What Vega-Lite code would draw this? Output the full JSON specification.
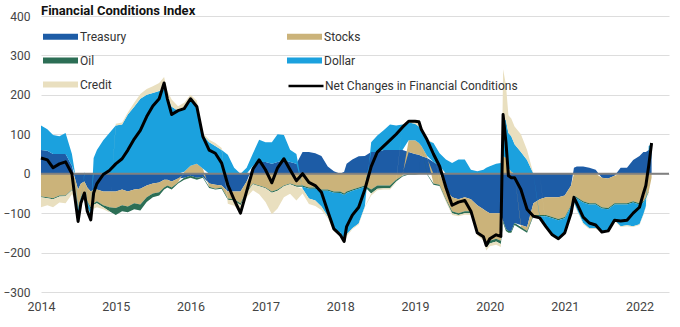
{
  "$schema": "https://vega.github.io/schema/vega-lite/v6.json",
  "width": 628,
  "height": 276,
  "autosize": {"type": "none"},
  "padding": {"left": 41, "top": 16, "right": 11, "bottom": 35},
  "background": "white",
  "title": {"text": "Financial Conditions Index", "anchor": "start", "frame": "group", "font": "Roboto", "fontSize": 13, "fontWeight": "bold", "color": "#111111", "offset": -8},
  "config": {"view": {"stroke": null}, "font": "Roboto"},
  "datasets": {
    "ord": [
      {"key": "T", "series": "Treasury", "k": 1},
      {"key": "S", "series": "Stocks", "k": 2},
      {"key": "O", "series": "Oil", "k": 3},
      {"key": "D", "series": "Dollar", "k": 4},
      {"key": "C", "series": "Credit", "k": 5}
    ],
    "fci": [
      {"date":"2014-01-01","T":60,"S":-58,"O":-2,"D":62,"C":-25,"N":40},
      {"date":"2014-02-01","T":58,"S":-60,"O":-2,"D":55,"C":-18,"N":35},
      {"date":"2014-03-01","T":50,"S":-62,"O":-3,"D":48,"C":-20,"N":15},
      {"date":"2014-04-01","T":50,"S":-55,"O":-3,"D":45,"C":-15,"N":25},
      {"date":"2014-05-01","T":50,"S":-55,"O":-2,"D":53,"C":-18,"N":30},
      {"date":"2014-06-01","T":20,"S":-40,"O":-2,"D":30,"C":-10,"N":0},
      {"date":"2014-06-15","T":-10,"S":-40,"O":-3,"D":5,"C":-10,"N":-58},
      {"date":"2014-07-01","T":-40,"S":-45,"O":-5,"D":-20,"C":-10,"N":-121},
      {"date":"2014-07-15","T":-25,"S":-35,"O":-3,"D":-5,"C":-7,"N":-74},
      {"date":"2014-08-01","T":-20,"S":-25,"O":-2,"D":5,"C":-7,"N":-49},
      {"date":"2014-08-15","T":-35,"S":-35,"O":-3,"D":-10,"C":-7,"N":-95},
      {"date":"2014-09-01","T":-45,"S":-40,"O":-5,"D":-15,"C":-12,"N":-117},
      {"date":"2014-09-15","T":-40,"S":-35,"O":-4,"D":40,"C":-10,"N":-49},
      {"date":"2014-10-01","T":-40,"S":-30,"O":-5,"D":60,"C":-10,"N":-25},
      {"date":"2014-11-01","T":-45,"S":-35,"O":-5,"D":85,"C":-5,"N":-2},
      {"date":"2014-12-01","T":-45,"S":-40,"O":-10,"D":103,"C":-3,"N":8},
      {"date":"2015-01-01","T":-45,"S":-42,"O":-18,"D":122,"C":5,"N":25},
      {"date":"2015-02-01","T":-40,"S":-40,"O":-15,"D":125,"C":5,"N":38},
      {"date":"2015-03-01","T":-45,"S":-38,"O":-15,"D":150,"C":5,"N":60},
      {"date":"2015-04-01","T":-40,"S":-35,"O":-15,"D":170,"C":10,"N":88},
      {"date":"2015-05-01","T":-38,"S":-40,"O":-15,"D":190,"C":12,"N":110},
      {"date":"2015-06-01","T":-30,"S":-30,"O":-12,"D":200,"C":15,"N":145},
      {"date":"2015-07-01","T":-25,"S":-25,"O":-10,"D":205,"C":17,"N":172},
      {"date":"2015-08-01","T":-22,"S":-25,"O":-8,"D":210,"C":20,"N":190},
      {"date":"2015-08-25","T":-15,"S":-20,"O":-5,"D":215,"C":30,"N":230},
      {"date":"2015-09-10","T":-15,"S":-15,"O":-5,"D":195,"C":15,"N":190},
      {"date":"2015-10-01","T":-20,"S":-15,"O":-5,"D":170,"C":18,"N":150},
      {"date":"2015-11-01","T":-12,"S":-10,"O":-3,"D":160,"C":11,"N":160},
      {"date":"2015-12-01","T":-10,"S":5,"O":-5,"D":160,"C":15,"N":165},
      {"date":"2016-01-01","T":-5,"S":20,"O":-5,"D":165,"C":15,"N":190},
      {"date":"2016-02-01","T":-10,"S":25,"O":-5,"D":145,"C":15,"N":170},
      {"date":"2016-03-01","T":-8,"S":13,"O":-2,"D":85,"C":5,"N":95},
      {"date":"2016-04-01","T":-25,"S":-8,"O":-3,"D":80,"C":6,"N":60},
      {"date":"2016-05-01","T":-28,"S":-10,"O":-2,"D":70,"C":8,"N":52},
      {"date":"2016-06-01","T":-30,"S":-5,"O":-3,"D":60,"C":5,"N":27},
      {"date":"2016-07-01","T":-45,"S":-18,"O":-3,"D":48,"C":-10,"N":-28},
      {"date":"2016-08-01","T":-45,"S":-20,"O":-3,"D":15,"C":-13,"N":-66},
      {"date":"2016-09-01","T":-45,"S":-30,"O":-5,"D":0,"C":-20,"N":-100},
      {"date":"2016-10-01","T":-20,"S":-25,"O":-3,"D":15,"C":-12,"N":-45},
      {"date":"2016-11-01","T":20,"S":-25,"O":-2,"D":32,"C":-15,"N":12},
      {"date":"2016-12-01","T":30,"S":-30,"O":-2,"D":56,"C":-20,"N":35},
      {"date":"2017-01-01","T":30,"S":-35,"O":-2,"D":50,"C":-35,"N":10},
      {"date":"2017-02-01","T":25,"S":-45,"O":-3,"D":55,"C":-55,"N":-23},
      {"date":"2017-03-01","T":30,"S":-40,"O":-3,"D":70,"C":-45,"N":15},
      {"date":"2017-04-01","T":35,"S":-30,"O":-2,"D":63,"C":-28,"N":38},
      {"date":"2017-05-01","T":30,"S":-25,"O":-2,"D":31,"C":-24,"N":10},
      {"date":"2017-06-01","T":25,"S":-30,"O":-3,"D":25,"C":-35,"N":-18},
      {"date":"2017-07-01","T":55,"S":-30,"O":-3,"D":-5,"C":-12,"N":0},
      {"date":"2017-08-01","T":55,"S":-35,"O":-3,"D":-25,"C":-14,"N":-22},
      {"date":"2017-09-01","T":52,"S":-35,"O":-3,"D":-30,"C":-14,"N":-30},
      {"date":"2017-10-01","T":45,"S":-40,"O":-3,"D":-40,"C":-9,"N":-47},
      {"date":"2017-11-01","T":18,"S":-40,"O":-3,"D":-65,"C":-5,"N":-95},
      {"date":"2017-12-01","T":6,"S":-45,"O":-3,"D":-95,"C":-3,"N":-140},
      {"date":"2018-01-01","T":0,"S":-45,"O":-4,"D":-100,"C":-6,"N":-155},
      {"date":"2018-01-20","T":5,"S":-50,"O":-4,"D":-115,"C":-8,"N":-172},
      {"date":"2018-02-01","T":25,"S":-45,"O":-4,"D":-105,"C":-5,"N":-134},
      {"date":"2018-03-01","T":36,"S":-40,"O":-3,"D":-95,"C":-3,"N":-105},
      {"date":"2018-04-01","T":44,"S":-35,"O":-3,"D":-88,"C":-3,"N":-85},
      {"date":"2018-05-01","T":45,"S":-30,"O":-3,"D":-50,"C":-2,"N":-40},
      {"date":"2018-06-01","T":55,"S":-40,"O":-10,"D":25,"C":-5,"N":18},
      {"date":"2018-07-01","T":55,"S":-30,"O":-8,"D":42,"C":-4,"N":55},
      {"date":"2018-08-01","T":60,"S":-30,"O":-7,"D":50,"C":-3,"N":70},
      {"date":"2018-09-01","T":60,"S":-30,"O":-7,"D":65,"C":-3,"N":85},
      {"date":"2018-10-01","T":60,"S":-15,"O":-5,"D":62,"C":-2,"N":100},
      {"date":"2018-11-01","T":60,"S":-5,"O":-2,"D":65,"C":0,"N":118},
      {"date":"2018-12-01","T":55,"S":30,"O":-2,"D":45,"C":5,"N":133},
      {"date":"2019-01-01","T":50,"S":35,"O":-2,"D":42,"C":8,"N":133},
      {"date":"2019-01-20","T":48,"S":30,"O":-1,"D":42,"C":6,"N":132},
      {"date":"2019-02-01","T":45,"S":25,"O":0,"D":40,"C":5,"N":112},
      {"date":"2019-03-01","T":40,"S":5,"O":-2,"D":40,"C":3,"N":86},
      {"date":"2019-04-01","T":30,"S":-25,"O":-3,"D":48,"C":0,"N":50},
      {"date":"2019-05-01","T":20,"S":-28,"O":-3,"D":32,"C":-2,"N":19},
      {"date":"2019-06-01","T":-40,"S":-25,"O":-3,"D":36,"C":-3,"N":-35},
      {"date":"2019-07-01","T":-60,"S":-35,"O":-5,"D":27,"C":-5,"N":-80},
      {"date":"2019-08-01","T":-65,"S":-35,"O":-5,"D":36,"C":-3,"N":-72},
      {"date":"2019-09-01","T":-60,"S":-35,"O":-5,"D":36,"C":-4,"N":-68},
      {"date":"2019-10-01","T":-65,"S":-30,"O":-5,"D":10,"C":-5,"N":-95},
      {"date":"2019-11-01","T":-80,"S":-65,"O":-6,"D":6,"C":-5,"N":-150},
      {"date":"2019-12-01","T":-90,"S":-70,"O":-5,"D":10,"C":-5,"N":-160},
      {"date":"2019-12-15","T":-95,"S":-85,"O":-8,"D":15,"C":-7,"N":-182},
      {"date":"2020-01-01","T":-100,"S":-70,"O":-7,"D":19,"C":-7,"N":-165},
      {"date":"2020-02-01","T":-100,"S":-65,"O":-7,"D":25,"C":-8,"N":-155},
      {"date":"2020-02-24","T":-100,"S":-70,"O":-8,"D":27,"C":-8,"N":-159},
      {"date":"2020-03-06","T":-120,"S":45,"O":-5,"D":100,"C":120,"N":150},
      {"date":"2020-03-20","T":-140,"S":40,"O":-5,"D":95,"C":90,"N":80},
      {"date":"2020-04-01","T":-145,"S":15,"O":-5,"D":88,"C":45,"N":-5},
      {"date":"2020-04-15","T":-145,"S":5,"O":-5,"D":90,"C":45,"N":-10},
      {"date":"2020-05-01","T":-125,"S":0,"O":-5,"D":75,"C":45,"N":-10},
      {"date":"2020-06-01","T":-130,"S":-5,"O":-5,"D":55,"C":45,"N":-40},
      {"date":"2020-07-01","T":-135,"S":-10,"O":-5,"D":35,"C":25,"N":-90},
      {"date":"2020-08-01","T":-75,"S":-30,"O":-3,"D":0,"C":0,"N":-108},
      {"date":"2020-09-01","T":-65,"S":-40,"O":-3,"D":-5,"C":0,"N":-112},
      {"date":"2020-10-01","T":-60,"S":-45,"O":-3,"D":-25,"C":-2,"N":-134},
      {"date":"2020-11-01","T":-60,"S":-50,"O":-3,"D":-40,"C":-2,"N":-155},
      {"date":"2020-12-01","T":-60,"S":-55,"O":-3,"D":-45,"C":-2,"N":-165},
      {"date":"2021-01-01","T":-55,"S":-55,"O":-3,"D":-35,"C":-2,"N":-150},
      {"date":"2021-02-01","T":-30,"S":-50,"O":-3,"D":-15,"C":-2,"N":-100},
      {"date":"2021-02-15","T":15,"S":-55,"O":-3,"D":-15,"C":-2,"N":-60},
      {"date":"2021-03-01","T":18,"S":-60,"O":-3,"D":-28,"C":-2,"N":-75},
      {"date":"2021-04-01","T":18,"S":-70,"O":-3,"D":-52,"C":-3,"N":-110},
      {"date":"2021-05-01","T":15,"S":-75,"O":-3,"D":-60,"C":-2,"N":-125},
      {"date":"2021-06-01","T":10,"S":-75,"O":-3,"D":-60,"C":-2,"N":-130},
      {"date":"2021-07-01","T":-10,"S":-75,"O":-3,"D":-58,"C":-2,"N":-148},
      {"date":"2021-08-01","T":-12,"S":-75,"O":-3,"D":-53,"C":-2,"N":-145},
      {"date":"2021-09-01","T":-5,"S":-70,"O":-3,"D":-40,"C":-2,"N":-118},
      {"date":"2021-10-01","T":15,"S":-75,"O":-3,"D":-55,"C":-2,"N":-120},
      {"date":"2021-11-01","T":15,"S":-75,"O":-3,"D":-53,"C":-2,"N":-118},
      {"date":"2021-12-01","T":35,"S":-70,"O":-3,"D":-60,"C":-2,"N":-100},
      {"date":"2022-01-01","T":45,"S":-75,"O":-3,"D":-50,"C":-2,"N":-85},
      {"date":"2022-01-20","T":55,"S":-70,"O":-3,"D":-30,"C":-2,"N":-50},
      {"date":"2022-02-01","T":55,"S":-60,"O":-3,"D":-20,"C":-2,"N":-30},
      {"date":"2022-02-15","T":60,"S":-45,"O":-2,"D":10,"C":-3,"N":20},
      {"date":"2022-03-01","T":55,"S":-10,"O":5,"D":15,"C":2,"N":78}
    ]
  },
  "layer": [
    {
      "data": {"name": "fci"},
      "transform": [
        {"fold": ["T", "S", "O", "D", "C"], "as": ["key", "value"]},
        {"lookup": "key", "from": {"data": {"name": "ord"}, "key": "key", "fields": ["series", "k"]}}
      ],
      "mark": {"type": "area", "interpolate": "linear"},
      "encoding": {
        "x": {
          "field": "date", "type": "temporal",
          "scale": {"domain": ["2014-01-01", "2022-05-25"]},
          "axis": {"title": null, "format": "%Y", "tickCount": {"interval": "year", "step": 1}, "domain": false, "ticks": false, "grid": false, "labelPadding": 8, "labelFontSize": 12.5, "labelColor": "#444444", "labelFlush": false}
        },
        "y": {
          "field": "value", "type": "quantitative", "stack": "zero",
          "scale": {"domain": [-300, 400]},
          "axis": {"title": null, "values": [-300, -200, -100, 0, 100, 200, 300, 400], "labelOverlap": false, "domain": false, "ticks": false, "labelPadding": 11, "labelFontSize": 12, "labelColor": "#444444", "gridColor": "#dddddd", "gridWidth": 1}
        },
        "fill": {
          "field": "series", "type": "nominal",
          "scale": {"domain": ["Treasury", "Stocks", "Oil", "Dollar", "Credit"], "range": ["#1D5CA6", "#CBB37A", "#2C6E55", "#1BA1DE", "#E9DFBF"]},
          "legend": {"title": null, "orient": "none", "direction": "horizontal", "legendX": 2, "legendY": 3, "columns": 2, "columnPadding": 160, "rowPadding": -11, "symbolType": "M-1,-0.17L1,-0.17L1,0.17L-1,0.17Z", "symbolSize": 1225, "symbolStrokeWidth": 0, "labelFontSize": 12, "labelColor": "#333333", "labelOffset": 2}
        },
        "order": {"field": "k", "type": "quantitative"}
      }
    },
    {
      "data": {"values": [{}]},
      "mark": {"type": "rule", "color": "#808080", "strokeWidth": 2},
      "encoding": {"y": {"datum": 0, "type": "quantitative", "axis": {"title": null, "values": [-300, -200, -100, 0, 100, 200, 300, 400], "labelOverlap": false, "domain": false, "ticks": false, "labelPadding": 11, "labelFontSize": 12, "labelColor": "#444444", "gridColor": "#dddddd", "gridWidth": 1}}}
    },
    {
      "data": {"name": "fci"},
      "mark": {"type": "line", "strokeWidth": 3, "strokeJoin": "round"},
      "encoding": {
        "x": {"field": "date", "type": "temporal"},
        "y": {"field": "N", "type": "quantitative", "axis": {"title": null, "values": [-300, -200, -100, 0, 100, 200, 300, 400], "labelOverlap": false, "domain": false, "ticks": false, "labelPadding": 11, "labelFontSize": 12, "labelColor": "#444444", "gridColor": "#dddddd", "gridWidth": 1}},
        "stroke": {
          "datum": "Net Changes in Financial Conditions",
          "scale": {"domain": ["Net Changes in Financial Conditions"], "range": ["#000000"]},
          "legend": {"title": null, "orient": "none", "legendX": 246, "legendY": 51, "symbolType": "stroke", "symbolSize": 1225, "symbolStrokeWidth": 2.5, "labelFontSize": 12, "labelColor": "#333333", "labelOffset": 0, "labelLimit": 400}
        }
      }
    }
  ]
}
